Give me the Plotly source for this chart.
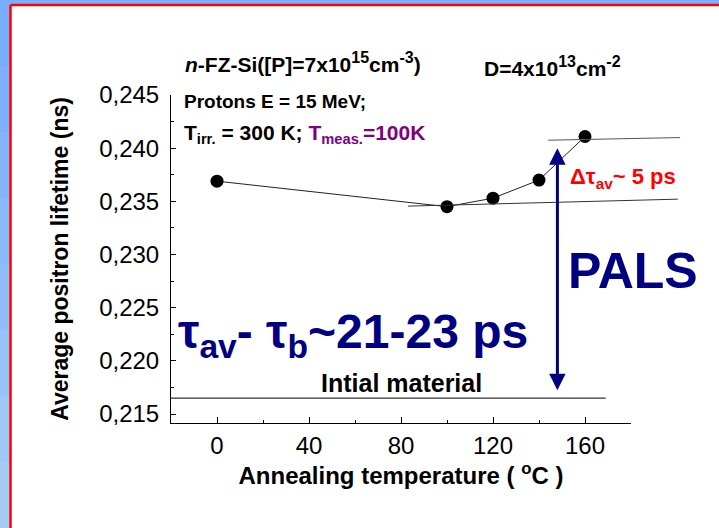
import plotly.graph_objects as go

# Average positron lifetime vs annealing temperature
temps = [0, 100, 120, 140, 160]
lifetime = [0.2369, 0.2345, 0.2353, 0.2370, 0.2411]

x_ticks = [0, 40, 80, 120, 160]
y_ticks = [0.215, 0.220, 0.225, 0.230, 0.235, 0.240, 0.245]

# guide lines, in data units
initial_level = 0.2165
initial_span = [-20, 169]
lower_guide_x = [83, 201]
lower_guide_y = [0.23455, 0.23521]
upper_guide_x = [144, 202]
upper_guide_y = [0.24075, 0.24100]
pals_x = 148
pals_span = [0.2171, 0.2400]

X_RANGE = [-20, 180]
Y_RANGE = [0.21416, 0.245]

W, H = 719, 528
ML, MR, MT, MB = 171, 88, 95, 105
PW, PH = W - ML - MR, H - MT - MB

FONT = "Arial, Liberation Sans, sans-serif"
NAVY = "#000080"


def paper(xp, yp):
    """pixel position on the page -> paper coordinates"""
    return (xp - ML) / PW, (H - MB - yp) / PH


fig = go.Figure()

fig.add_trace(go.Scatter(
    x=temps, y=lifetime, mode="lines+markers",
    line=dict(color="#222222", width=1),
    marker=dict(color="black", size=13),
    showlegend=False, cliponaxis=False,
))

# initial material level
fig.add_trace(go.Scatter(
    x=initial_span, y=[initial_level, initial_level], mode="lines",
    line=dict(color="black", width=1), showlegend=False,
))

annotations = []


def guide(xs, ys, color="#333333", width=1):
    annotations.append(dict(
        x=xs[0], y=ys[0], ax=xs[1], ay=ys[1],
        xref="x", yref="y", axref="x", ayref="y",
        text="", showarrow=True, arrowhead=0, arrowwidth=width,
        arrowcolor=color, standoff=0, startstandoff=0, font=dict(size=1),
    ))


guide(lower_guide_x, lower_guide_y)
guide(upper_guide_x, upper_guide_y, color="#555555")

# double-headed PALS arrow
annotations.append(dict(
    x=pals_x, y=pals_span[1], ax=pals_x, ay=pals_span[0],
    xref="x", yref="y", axref="x", ayref="y",
    text="", showarrow=True, arrowhead=2, startarrowhead=2, arrowside="end+start",
    arrowsize=1.1, startarrowsize=1.1, arrowwidth=3, arrowcolor=NAVY,
    standoff=0, startstandoff=0, font=dict(size=1),
))


def label(text, xp, yp, size, color="black", xanchor="left", yanchor="middle"):
    px_, py_ = paper(xp, yp)
    annotations.append(dict(
        x=px_, y=py_, xref="paper", yref="paper", text=text, showarrow=False,
        xanchor=xanchor, yanchor=yanchor,
        font=dict(family=FONT, size=size, color=color),
    ))


def sup(s, size):
    return "<sup><span style='font-size:%dpx'>%s</span></sup>" % (size, s)


label("<b><i>n</i>-FZ-Si([P]=7x10" + sup("15", 16) + "cm" + sup("-3", 16) + ")</b>",
      183, 63, 21)
label("<b>D=4x10" + sup("13", 16) + "cm" + sup("-2", 16) + "</b>", 482, 67, 21)
label("<b>Protons E = 15 MeV;</b>", 182, 101, 19)
label("<b>T<sub>irr.</sub> = 300 K; <span style='color:#800080'>T<sub>meas.</sub>=100K</span></b>",
      182, 134, 21)
label("<b>τ<sub>av</sub>- τ<sub>b</sub>~21-23 ps</b>", 176, 335, 48, color=NAVY)
label("<b>PALS</b>", 566, 271, 50, color=NAVY)
label("<b>Δτ<sub>av</sub>~ 5 ps</b>", 568, 178, 22, color="#ff0000")
label("<b>Intial material</b>", 401, 383, 25, xanchor="center")

# page background: blue strip with a white panel, red edge on its left and top
shapes = []
blues = ["#78acff", "#7db0fd", "#83b5fb", "#89baf9", "#90bff7", "#97c4f6", "#9ec8f5", "#a4ccf4"]
n = len(blues)
for i, c in enumerate(blues):
    x0, y_top = paper(0, i * H / n)
    x1, y_bot = paper(12, (i + 1) * H / n + 1)
    shapes.append(dict(type="rect", xref="paper", yref="paper", layer="below",
                       x0=x0, x1=x1, y0=y_bot, y1=y_top, line=dict(width=0), fillcolor=c))
bx0, by1 = paper(0, 0)
bx1, by0 = paper(W, 7)
shapes.append(dict(type="rect", xref="paper", yref="paper", layer="below",
                   x0=bx0, x1=bx1, y0=by0, y1=by1, line=dict(width=0), fillcolor="#7aaeff"))
px0, py1 = paper(10.5, 5)
px1, py0 = paper(W, H)
shapes.append(dict(type="rect", xref="paper", yref="paper", layer="below",
                   x0=px0, x1=px1, y0=py0, y1=py1, line=dict(width=0), fillcolor="white"))
shapes.append(dict(type="line", xref="paper", yref="paper", layer="below",
                   x0=px0, x1=px0, y0=py0, y1=py1, line=dict(color="#ff0000", width=2.5)))
shapes.append(dict(type="line", xref="paper", yref="paper", layer="below",
                   x0=px0, x1=px1, y0=py1, y1=py1, line=dict(color="#ff0000", width=2.5)))

fig.update_layout(
    width=W, height=H,
    margin=dict(l=ML, r=MR, t=MT, b=MB, pad=0),
    paper_bgcolor="#8fbef8", plot_bgcolor="white",
    separators=", ",
    font=dict(family=FONT, color="black"),
    shapes=shapes, annotations=annotations,
    xaxis=dict(
        range=X_RANGE, tickvals=x_ticks, ticks="inside", ticklen=6, tickwidth=1,
        tickcolor="black", showline=True, linecolor="black", linewidth=1,
        showgrid=False, zeroline=False, tickfont=dict(size=24), ticklabelstandoff=1,
        minor=dict(dtick=20, ticks="inside", ticklen=3, tickcolor="black", showgrid=False),
        title=dict(text="<b>Annealing temperature ( <sup>o</sup>C )</b>",
                   font=dict(size=24), standoff=8),
    ),
    yaxis=dict(
        range=Y_RANGE, tickvals=y_ticks, tickformat=".3f", ticks="inside", ticklen=5,
        tickwidth=1, tickcolor="black", showline=True, linecolor="black", linewidth=1,
        showgrid=False, zeroline=False, tickfont=dict(size=24), ticklabelstandoff=6,
        minor=dict(dtick=0.0025, tick0=0.215, ticks="inside", ticklen=3,
                   tickcolor="black", showgrid=False),
        title=dict(text="<b>Average positron lifetime (ns)</b>",
                   font=dict(size=23), standoff=24),
    ),
)

fig.write_html("out.html")
